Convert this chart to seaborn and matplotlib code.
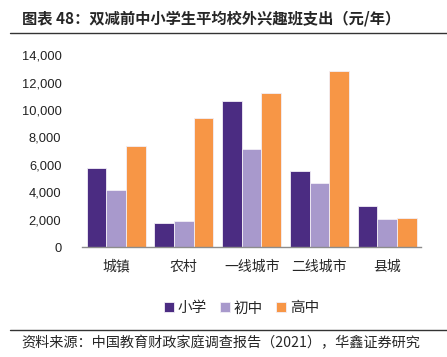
import pandas as pd
import numpy as np
import matplotlib
matplotlib.use("Agg")
import matplotlib.pyplot as plt
import matplotlib.ticker as mticker
import seaborn as sns

# DATA
# ----
regions = ["城镇", "农村", "一线城市", "二线城市", "县城"]
levels = ["小学", "初中", "高中"]
primary = [5800, 1750, 10700, 5550, 2970]
junior = [4150, 1880, 7140, 4650, 2070]
senior = [7400, 9400, 11230, 12830, 2100]
palette = ["#4B2C82", "#A899CC", "#F79646"]

title_text = "图表 48：双减前中小学生平均校外兴趣班支出（元/年）"
source_text = "资料来源：中国教育财政家庭调查报告（2021），华鑫证券研究"

df = pd.DataFrame({
    "region": regions * 3,
    "level": [levels[0]] * 5 + [levels[1]] * 5 + [levels[2]] * 5,
    "value": primary + junior + senior,
})

sns.set_style("white")
plt.rcParams["font.family"] = ["Noto Sans CJK SC", "DejaVu Sans"]

fig = plt.figure(figsize=(4.47, 3.57), dpi=100)
ax = fig.add_axes([0.184, 0.308, 0.758, 0.537])

sns.barplot(data=df, x="region", y="value", hue="level", order=regions,
            hue_order=levels, palette=palette, width=0.87, saturation=1,
            edgecolor="#F2EEF6", linewidth=0.6, ax=ax)

ax.set_ylim(0, 14000)
ax.set_xlim(-0.5, 4.5)
ax.yaxis.set_major_locator(mticker.MultipleLocator(2000))
ax.yaxis.set_major_formatter(mticker.FuncFormatter(lambda v, p: f"{int(v):,}"))
ax.set_xlabel("")
ax.set_ylabel("")
for s in ["top", "right", "left"]:
    ax.spines[s].set_visible(False)
ax.spines["bottom"].set_color("#8C8C8C")
ax.spines["bottom"].set_linewidth(1.0)

ax.tick_params(axis="y", length=0, labelsize=9.3, pad=15, labelcolor="#222222")
for lab in ax.get_yticklabels():
    lab.set_family(["Liberation Sans", "DejaVu Sans"])
ax.tick_params(axis="x", which="major", length=0, labelsize=10, pad=9)
ax.set_xticks(np.arange(-0.5, 5.0, 1.0), minor=True)
ax.tick_params(axis="x", which="minor", length=4, color="#BBBBBB", direction="inout")

ax.legend(loc="upper center", bbox_to_anchor=(0.47, -0.215), ncol=3, frameon=False,
          fontsize=10.5, handlelength=0.7, handleheight=0.7, handletextpad=0.25,
          columnspacing=0.9)

# title, rule lines and source
fig.text(0.05, 0.948, title_text, fontsize=11, fontweight="bold", va="center", ha="left")
fig.add_artist(plt.Line2D([0.022, 1.0], [0.908, 0.908], color="#333333", lw=1.0))
fig.add_artist(plt.Line2D([0.022, 1.0], [0.077, 0.077], color="#333333", lw=1.0))
fig.text(0.047, 0.038, source_text, fontsize=10.2, va="center", ha="left")

fig.savefig("out.png", dpi=100)
